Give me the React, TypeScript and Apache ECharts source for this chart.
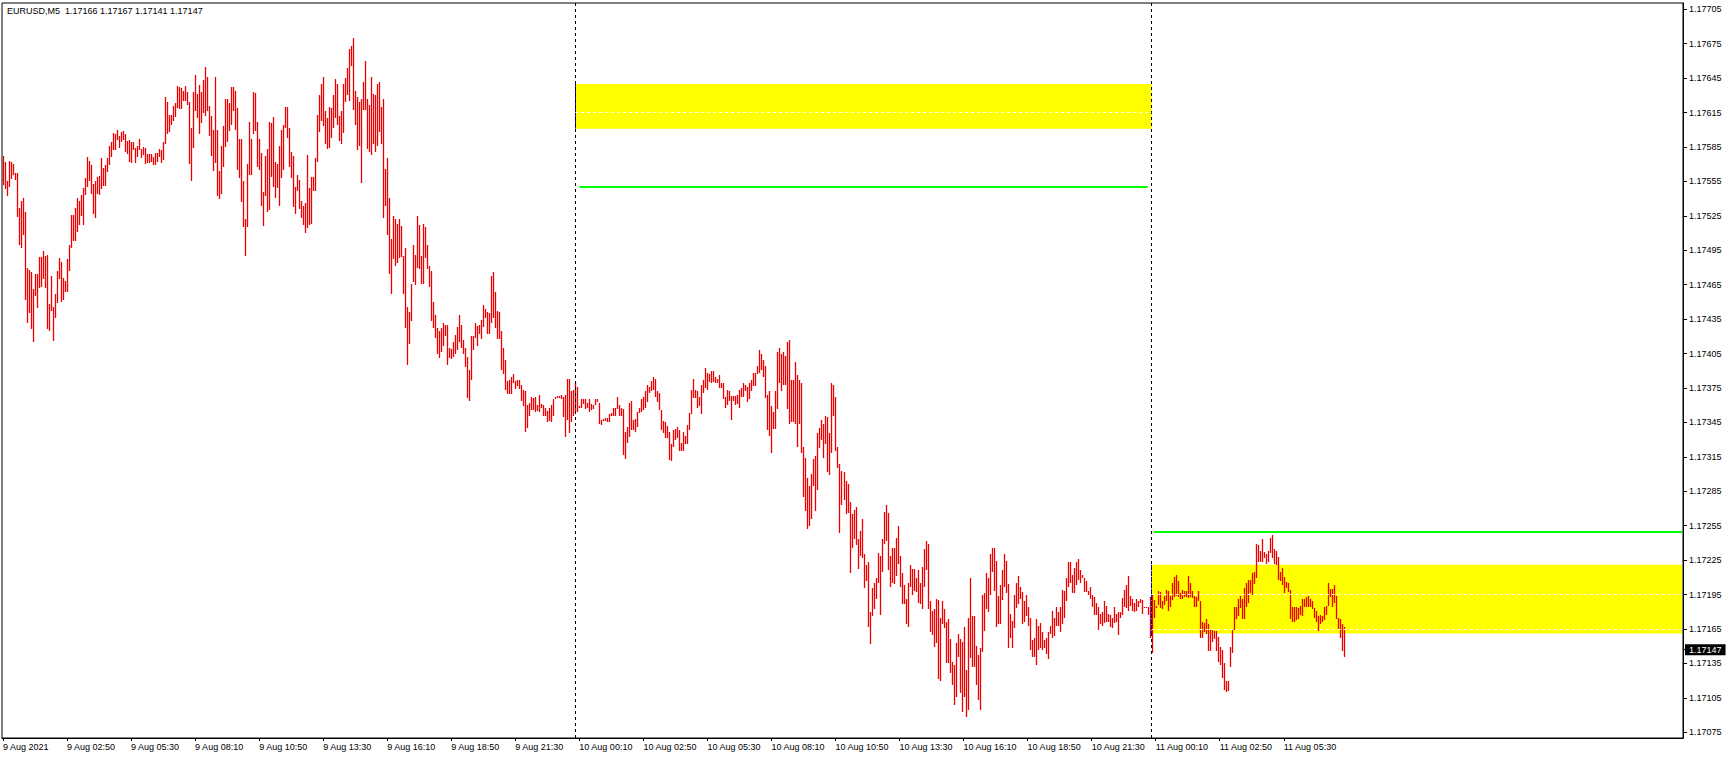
import React, { useEffect, useRef } from "react";
import * as echarts from "echarts";

const TITLE = "EURUSD,M5  1.17166 1.17167 1.17141 1.17147";
const POINT = 0.00001;
const SLOT_COUNT = 840;
const START_UTC = Date.UTC(2021, 7, 9, 0, 10);

const xTickLabels = [
  "9 Aug 2021", "9 Aug 02:50", "9 Aug 05:30", "9 Aug 08:10", "9 Aug 10:50", "9 Aug 13:30",
  "9 Aug 16:10", "9 Aug 18:50", "9 Aug 21:30", "10 Aug 00:10", "10 Aug 02:50", "10 Aug 05:30",
  "10 Aug 08:10", "10 Aug 10:50", "10 Aug 13:30", "10 Aug 16:10", "10 Aug 18:50", "10 Aug 21:30",
  "11 Aug 00:10", "11 Aug 02:50", "11 Aug 05:30",
];
const X_LABEL_STEP = 32;

const yTicks = [
  1.17075, 1.17105, 1.17135, 1.17165, 1.17195, 1.17225, 1.17255, 1.17285, 1.17315, 1.17345,
  1.17375, 1.17405, 1.17435, 1.17465, 1.17495, 1.17525, 1.17555, 1.17585, 1.17615, 1.17645,
  1.17675, 1.17705,
];

// bar highs / lows in points (1.17577 -> 117577)
const highs = [
  117577, 117572, 117555, 117573, 117572, 117570, 117562, 117562, 117532, 117538,
  117541, 117528, 117480, 117478, 117476, 117461, 117474, 117474, 117489, 117489,
  117494, 117490, 117491, 117448, 117473, 117446, 117457, 117477, 117488, 117485,
  117471, 117468, 117487, 117500, 117526, 117526, 117532, 117541, 117538, 117543,
  117549, 117558, 117576, 117573, 117569, 117553, 117555, 117559, 117560, 117575,
  117567, 117569, 117575, 117586, 117589, 117597, 117596, 117600, 117595, 117598,
  117599, 117596, 117590, 117591, 117589, 117589, 117584, 117586, 117592, 117583,
  117585, 117584, 117579, 117579, 117579, 117576, 117580, 117580, 117583, 117582,
  117589, 117629, 117624, 117613, 117613, 117621, 117623, 117638, 117637, 117636,
  117634, 117638, 117633, 117624, 117602, 117633, 117648, 117631, 117639, 117633,
  117643, 117655, 117646, 117621, 117612, 117600, 117646, 117600, 117564, 117586,
  117603, 117627, 117627, 117623, 117637, 117637, 117634, 117619, 117592, 117592,
  117555, 117522, 117570, 117607, 117592, 117633, 117632, 117607, 117592, 117580,
  117546, 117577, 117583, 117607, 117606, 117611, 117572, 117570, 117586, 117600,
  117604, 117620, 117620, 117602, 117581, 117577, 117550, 117561, 117556, 117538,
  117534, 117536, 117578, 117549, 117559, 117559, 117575, 117613, 117630, 117640,
  117646, 117616, 117610, 117620, 117619, 117630, 117644, 117640, 117612, 117616,
  117640, 117645, 117654, 117670, 117673, 117680, 117634, 117629, 117624, 117627,
  117642, 117660, 117627, 117622, 117646, 117631, 117630, 117640, 117642, 117620,
  117627, 117566, 117575, 117541, 117505, 117525, 117522, 117518, 117522, 117516,
  117490, 117497, 117446, 117441, 117466, 117500, 117491, 117525, 117517, 117490,
  117518, 117515, 117500, 117481, 117477, 117450, 117439, 117427, 117425, 117427,
  117432, 117430, 117430, 117410, 117409, 117415, 117421, 117428, 117439, 117430,
  117417, 117410, 117402, 117391, 117420, 117420, 117432, 117429, 117430, 117434,
  117447, 117444, 117441, 117440, 117473, 117476, 117459, 117442, 117441, 117425,
  117410, 117399, 117381, 117382, 117385, 117387, 117381, 117382, 117382, 117378,
  117373, 117372, 117360, 117362, 117367, 117366, 117367, 117360, 117369, 117361,
  117360, 117358, 117355, 117358, 117360, 117365, 117367, 117368, 117368, 117369,
  117367, 117369, 117383, 117383, 117372, 117373, 117380, 117376, 117359, 117365,
  117365, 117365, 117362, 117365, 117361, 117360, 117365, 117365, 117362, 117347,
  117348, 117349, 117349, 117352, 117353, 117358, 117358, 117367, 117360, 117358,
  117357, 117337, 117341, 117362, 117364, 117347, 117348, 117354, 117358, 117365,
  117367, 117372, 117378, 117376, 117381, 117385, 117383, 117372, 117371, 117356,
  117346, 117345, 117342, 117337, 117326, 117338, 117339, 117341, 117338, 117327,
  117337, 117333, 117343, 117353, 117373, 117383, 117373, 117372, 117367, 117378,
  117382, 117392, 117388, 117387, 117390, 117390, 117385, 117383, 117386, 117379,
  117379, 117367, 117373, 117372, 117368, 117368, 117368, 117369, 117373, 117375,
  117379, 117378, 117376, 117379, 117382, 117388, 117388, 117394, 117408, 117405,
  117399, 117394, 117369, 117372, 117359, 117354, 117372, 117406, 117410, 117405,
  117406, 117403, 117415, 117417, 117382, 117382, 117398, 117386, 117382, 117379,
  117324, 117314, 117297, 117290, 117300, 117313, 117316, 117336, 117340, 117347,
  117344, 117351, 117350, 117336, 117379, 117378, 117367, 117324, 117309, 117303,
  117302, 117294, 117291, 117276, 117265, 117269, 117271, 117243, 117250, 117261,
  117230, 117221, 117223, 117180, 117201, 117205, 117209, 117231, 117229, 117243,
  117267, 117273, 117266, 117229, 117236, 117236, 117244, 117255, 117229, 117214,
  117203, 117191, 117205, 117221, 117217, 117217, 117209, 117216, 117205, 117219,
  117235, 117242, 117239, 117189, 117181, 117182, 117191, 117190, 117175, 117189,
  117182, 117171, 117174, 117156, 117136, 117134, 117153, 117161, 117156, 117154,
  117167, 117129, 117175, 117209, 117176, 117176, 117150, 117142, 117148, 117195,
  117196, 117214, 117209, 117230, 117236, 117236, 117224, 117194, 117203, 117216,
  117230, 117224, 117204, 117178, 117172, 117195, 117205, 117211, 117202, 117197,
  117189, 117195, 117184, 117175, 117155, 117157, 117174, 117168, 117170, 117162,
  117155, 117157, 117162, 117168, 117181, 117175, 117184, 117180, 117184, 117199,
  117198, 117209, 117223, 117223, 117212, 117218, 117223, 117226, 117216, 117212,
  117209, 117207, 117198, 117202, 117195, 117193, 117188, 117184, 117178, 117180,
  117189, 117185, 117178, 117177, 117175, 117184, 117178, 117180, 117180, 117192,
  117199, 117203, 117211, 117194, 117191, 117188, 117191, 117189, 117191, 117190,
  117184, 117184, 117184, 117193, 117195, 117190, 117185, 117198, 117197, 117189,
  117194, 117199, 117198, 117194, 117205, 117210, 117212, 117207, 117196, 117199,
  117198, 117198, 117211, 117205, 117198, 117194, 117193, 117198, 117189, 117171,
  117170, 117174, 117169, 117164, 117164, 117163, 117163, 117158, 117149, 117147,
  117135, 117120, 117120, 117149, 117164, 117184, 117184, 117191, 117194, 117191,
  117201, 117205, 117208, 117208, 117214, 117215, 117239, 117238, 117233, 117243,
  117232, 117230, 117233, 117244, 117247, 117235, 117233, 117228, 117215, 117218,
  117210, 117206, 117205, 117199, 117184, 117184, 117184, 117183, 117185, 117191,
  117191, 117193, 117194, 117191, 117189, 117183, 117181, 117176, 117177, 117176,
  117184, 117185, 117205, 117200, 117200, 117203, 117194, 117175, 117174, 117169,
  117167,
];

const lows = [
  117552, 117548, 117542, 117550, 117557, 117561, 117556, 117524, 117500, 117497,
  117508, 117452, 117432, 117440, 117426, 117415, 117455, 117445, 117462, 117463,
  117470, 117462, 117426, 117425, 117442, 117416, 117436, 117449, 117470, 117450,
  117452, 117459, 117459, 117477, 117497, 117503, 117503, 117511, 117517, 117525,
  117517, 117543, 117550, 117555, 117544, 117527, 117523, 117544, 117543, 117548,
  117551, 117551, 117563, 117569, 117576, 117582, 117582, 117591, 117584, 117589,
  117591, 117581, 117579, 117572, 117571, 117582, 117571, 117576, 117582, 117575,
  117578, 117570, 117571, 117571, 117572, 117569, 117569, 117572, 117576, 117571,
  117574, 117588, 117596, 117598, 117604, 117608, 117611, 117619, 117618, 117618,
  117625, 117625, 117622, 117570, 117555, 117584, 117616, 117610, 117596, 117606,
  117615, 117612, 117616, 117595, 117577, 117564, 117571, 117542, 117540, 117544,
  117568, 117585, 117589, 117599, 117604, 117616, 117600, 117565, 117558, 117537,
  117515, 117490, 117515, 117561, 117561, 117596, 117599, 117568, 117565, 117534,
  117516, 117542, 117528, 117530, 117559, 117550, 117541, 117549, 117534, 117558,
  117565, 117602, 117593, 117568, 117558, 117533, 117527, 117547, 117531, 117523,
  117517, 117510, 117514, 117517, 117518, 117547, 117547, 117572, 117598, 117608,
  117603, 117588, 117583, 117584, 117593, 117602, 117610, 117604, 117590, 117588,
  117597, 117624, 117630, 117625, 117656, 117617, 117604, 117582, 117586, 117554,
  117617, 117617, 117583, 117581, 117578, 117588, 117581, 117586, 117598, 117588,
  117523, 117534, 117508, 117474, 117457, 117487, 117481, 117484, 117488, 117489,
  117457, 117427, 117395, 117413, 117433, 117467, 117465, 117480, 117479, 117466,
  117466, 117488, 117479, 117463, 117433, 117427, 117419, 117405, 117401, 117406,
  117412, 117420, 117395, 117401, 117400, 117402, 117405, 117408, 117415, 117410,
  117405, 117393, 117366, 117364, 117382, 117408, 117419, 117412, 117422, 117418,
  117428, 117436, 117422, 117422, 117432, 117436, 117427, 117418, 117418, 117391,
  117387, 117373, 117370, 117370, 117370, 117379, 117374, 117377, 117374, 117364,
  117359, 117337, 117340, 117351, 117356, 117356, 117354, 117355, 117354, 117358,
  117351, 117351, 117345, 117346, 117345, 117351, 117365, 117366, 117366, 117365,
  117350, 117332, 117347, 117336, 117345, 117351, 117353, 117354, 117358, 117358,
  117361, 117357, 117358, 117354, 117356, 117357, 117360, 117363, 117344, 117343,
  117346, 117346, 117345, 117345, 117351, 117351, 117351, 117357, 117351, 117351,
  117317, 117313, 117327, 117332, 117338, 117338, 117337, 117341, 117353, 117354,
  117356, 117358, 117363, 117371, 117372, 117373, 117367, 117363, 117356, 117338,
  117336, 117331, 117331, 117312, 117311, 117324, 117330, 117331, 117320, 117320,
  117320, 117326, 117326, 117338, 117352, 117366, 117366, 117358, 117359, 117352,
  117371, 117375, 117373, 117380, 117379, 117380, 117379, 117379, 117375, 117375,
  117365, 117358, 117360, 117364, 117347, 117364, 117360, 117361, 117358, 117367,
  117367, 117372, 117363, 117365, 117372, 117377, 117377, 117387, 117388, 117391,
  117385, 117366, 117338, 117333, 117318, 117339, 117339, 117357, 117379, 117372,
  117378, 117378, 117357, 117344, 117345, 117345, 117344, 117324, 117344, 117318,
  117280, 117268, 117252, 117255, 117261, 117290, 117268, 117286, 117323, 117330,
  117314, 117326, 117302, 117299, 117318, 117351, 117320, 117305, 117249, 117273,
  117277, 117265, 117266, 117214, 117236, 117243, 117238, 117217, 117229, 117227,
  117201, 117207, 117167, 117152, 117176, 117182, 117191, 117205, 117177, 117215,
  117239, 117242, 117216, 117202, 117205, 117204, 117211, 117222, 117202, 117187,
  117187, 117169, 117167, 117202, 117195, 117198, 117197, 117188, 117187, 117182,
  117202, 117216, 117182, 117162, 117160, 117149, 117153, 117121, 117120, 117169,
  117166, 117135, 117135, 117127, 117116, 117099, 117106, 117141, 117109, 117093,
  117106, 117088, 117094, 117140, 117132, 117132, 117116, 117103, 117094, 117145,
  117163, 117182, 117180, 117195, 117215, 117198, 117167, 117169, 117169, 117190,
  117202, 117196, 117148, 117157, 117148, 117166, 117183, 117187, 117191, 117169,
  117171, 117176, 117168, 117147, 117141, 117141, 117134, 117147, 117148, 117147,
  117148, 117143, 117139, 117161, 117157, 117159, 117168, 117168, 117162, 117169,
  117175, 117189, 117202, 117205, 117196, 117196, 117203, 117208, 117205, 117209,
  117197, 117197, 117195, 117191, 117184, 117177, 117177, 117164, 117169, 117168,
  117170, 117171, 117171, 117167, 117166, 117170, 117171, 117160, 117175, 117177,
  117184, 117183, 117181, 117185, 117181, 117180, 117181, 117184, 117188, 117178,
  117183, 117183, 117177, 117157, 117144, 117175, 117183, 117186, 117183, 117182,
  117186, 117189, 117181, 117184, 117190, 117193, 117194, 117193, 117191, 117191,
  117193, 117193, 117192, 117193, 117192, 117184, 117184, 117189, 117157, 117157,
  117162, 117161, 117146, 117146, 117154, 117156, 117146, 117136, 117134, 117122,
  117112, 117110, 117111, 117132, 117144, 117164, 117174, 117176, 117183, 117174,
  117174, 117184, 117188, 117196, 117195, 117204, 117209, 117223, 117223, 117223,
  117227, 117222, 117223, 117231, 117227, 117222, 117221, 117208, 117207, 117203,
  117196, 117201, 117197, 117174, 117171, 117171, 117173, 117174, 117177, 117176,
  117184, 117184, 117184, 117184, 117182, 117175, 117171, 117163, 117169, 117171,
  117173, 117177, 117185, 117193, 117184, 117188, 117174, 117164, 117157, 117146,
  117141,
];

// chart objects (prices, bar indices)
const SEP_DAY1 = 286; // 10 Aug 00:00
const SEP_DAY2 = 574; // 11 Aug 00:00
const zone1 = { from: 286, to: 574, top: 1.1764, bottom: 1.17601, dashes: [1.17615] };
const zone2 = { from: 574, to: 839, top: 1.17221, bottom: 1.17161, dashes: [1.17195, 1.17165] };
const greenLines = [
  { from: 288, to: 572, price: 1.1755 },
  { from: 575, to: 839, price: 1.1725 },
];
const bidTicks = [1.17147];

const Y_MIN = 1.1707;
const Y_MAX = 1.177105;

function pad(n: number) {
  return n < 10 ? "0" + n : String(n);
}

const categories: string[] = [];
for (let i = 0; i < SLOT_COUNT; i++) {
  const t = new Date(START_UTC + i * 300000);
  categories.push(
    `${t.getUTCFullYear()}.${pad(t.getUTCMonth() + 1)}.${pad(t.getUTCDate())} ${pad(t.getUTCHours())}:${pad(t.getUTCMinutes())}`
  );
}

const FONT = "'Liberation Sans', Arial, sans-serif";

export default function App() {
  const ref = useRef<HTMLDivElement>(null);

  useEffect(() => {
    if (!ref.current) return;
    const chart = echarts.init(ref.current, undefined, { renderer: "svg" });

    const barData = highs.map((h, i) => [i, h * POINT, lows[i] * POINT]);
    const lastLabelIdx = (xTickLabels.length - 1) * X_LABEL_STEP;
    const showIdx = (idx: number) => idx % X_LABEL_STEP === 0 && idx <= lastLabelIdx;

    const hseg = (a: number, b: number, price: number, lineStyle: any) => [
      { coord: [categories[a], price], lineStyle },
      { coord: [categories[b], price] },
    ];
    const vseg = (a: number, top: number, bottom: number, lineStyle: any) => [
      { coord: [categories[a], top], lineStyle },
      { coord: [categories[a], bottom] },
    ];
    const blueDash = { color: "#0000ff", width: 1, type: [3, 3] };
    const whiteDash = { color: "#ffffff", width: 1, type: [3, 3] };
    const green = { color: "#00ff00", width: 2, type: "solid" };

    chart.setOption({
      animation: false,
      backgroundColor: "#ffffff",
      title: {
        text: TITLE,
        left: 7,
        top: 6,
        padding: 0,
        textStyle: { fontSize: 9, fontWeight: "normal", color: "#000", fontFamily: FONT },
      },
      grid: {
        left: 2,
        right: 46,
        top: 3,
        bottom: 21,
        show: true,
        borderColor: "#000",
        borderWidth: 1,
        backgroundColor: "transparent",
      },
      xAxis: {
        type: "category",
        data: categories,
        boundaryGap: true,
        axisLine: { show: true, lineStyle: { color: "#000", width: 1 } },
        axisTick: {
          show: true,
          interval: (idx: number) => showIdx(idx),
          alignWithLabel: true,
          length: 3,
          lineStyle: { color: "#000" },
        },
        axisLabel: {
          show: true,
          interval: (idx: number) => showIdx(idx),
          formatter: (_v: string, idx: number) =>
            showIdx(idx) ? xTickLabels[idx / X_LABEL_STEP] : "",
          align: "left",
          margin: 4,
          fontSize: 9,
          color: "#000",
          fontFamily: FONT,
        },
        splitLine: { show: false },
      },
      yAxis: [
        {
          type: "value",
          position: "right",
          min: Y_MIN,
          max: Y_MAX,
          scale: true,
          axisLine: { show: true, lineStyle: { color: "#000", width: 1 } },
          axisTick: { show: true, length: 4, customValues: yTicks, lineStyle: { color: "#000" } },
          axisLabel: {
            show: true,
            customValues: yTicks,
            formatter: (v: number) => v.toFixed(5),
            margin: 6,
            fontSize: 9,
            color: "#000",
            fontFamily: FONT,
          },
          splitLine: { show: false },
        },
        {
          type: "value",
          position: "right",
          min: Y_MIN,
          max: Y_MAX,
          scale: true,
          offset: 0,
          z: 10,
          axisLine: { show: false },
          axisTick: { show: true, length: 2, customValues: bidTicks, lineStyle: { color: "#000" } },
          axisLabel: {
            show: true,
            customValues: bidTicks,
            formatter: (v: number) => v.toFixed(5),
            margin: 2,
            fontSize: 9,
            color: "#ffffff",
            backgroundColor: "#000000",
            padding: [1, 4, 1, 4],
            fontFamily: FONT,
          },
          splitLine: { show: false },
        },
      ],
      series: [
        {
          type: "line",
          name: "objects-bg",
          data: [],
          z: 1,
          silent: true,
          markArea: {
            silent: true,
            itemStyle: { color: "#ffff00", opacity: 1 },
            data: [
              [
                { xAxis: categories[zone1.from], yAxis: zone1.top },
                { xAxis: categories[zone1.to], yAxis: zone1.bottom },
              ],
              [
                { xAxis: categories[zone2.from], yAxis: zone2.top },
                { xAxis: categories[zone2.to], yAxis: zone2.bottom },
              ],
            ],
          },
          markLine: {
            silent: true,
            symbol: ["none", "none"],
            label: { show: false },
            lineStyle: { color: "#000", width: 1, type: [3, 3] },
            data: [
              { xAxis: categories[SEP_DAY1] },
              { xAxis: categories[SEP_DAY2] },
              vseg(zone1.from, zone1.top, zone1.bottom, blueDash),
              vseg(zone2.from, zone2.top, zone2.bottom, blueDash),
            ],
          },
        },
        {
          type: "custom",
          name: "EURUSD",
          data: barData,
          z: 2,
          silent: true,
          encode: { x: 0, y: [1, 2] },
          renderItem: (_params: any, api: any) => {
            const idx = api.value(0);
            const p1 = api.coord([idx, api.value(1)]);
            const p2 = api.coord([idx, api.value(2)]);
            const x = Math.round(p1[0]);
            const y1 = Math.round(p1[1]);
            const y2 = Math.max(Math.round(p2[1]), y1 + 1);
            return {
              type: "rect",
              shape: { x: x - 0.15, y: y1, width: 1.3, height: y2 - y1 },
              style: { fill: "#ee0000" },
            };
          },
        },
        {
          type: "line",
          name: "objects-fg",
          data: [],
          z: 3,
          silent: true,
          markLine: {
            silent: true,
            symbol: ["none", "none"],
            label: { show: false },
            data: [
              ...zone1.dashes.map((p) => hseg(zone1.from, zone1.to, p, whiteDash)),
              ...zone2.dashes.map((p) => hseg(zone2.from, zone2.to, p, whiteDash)),
              ...greenLines.map((g) => hseg(g.from, g.to, g.price, green)),
            ],
          },
        },
      ],
    });

    return () => {
      chart.dispose();
    };
  }, []);

  return (
    <div
      ref={ref}
      style={{ position: "absolute", left: 0, top: 0, width: 1729, height: 759 }}
    />
  );
}
